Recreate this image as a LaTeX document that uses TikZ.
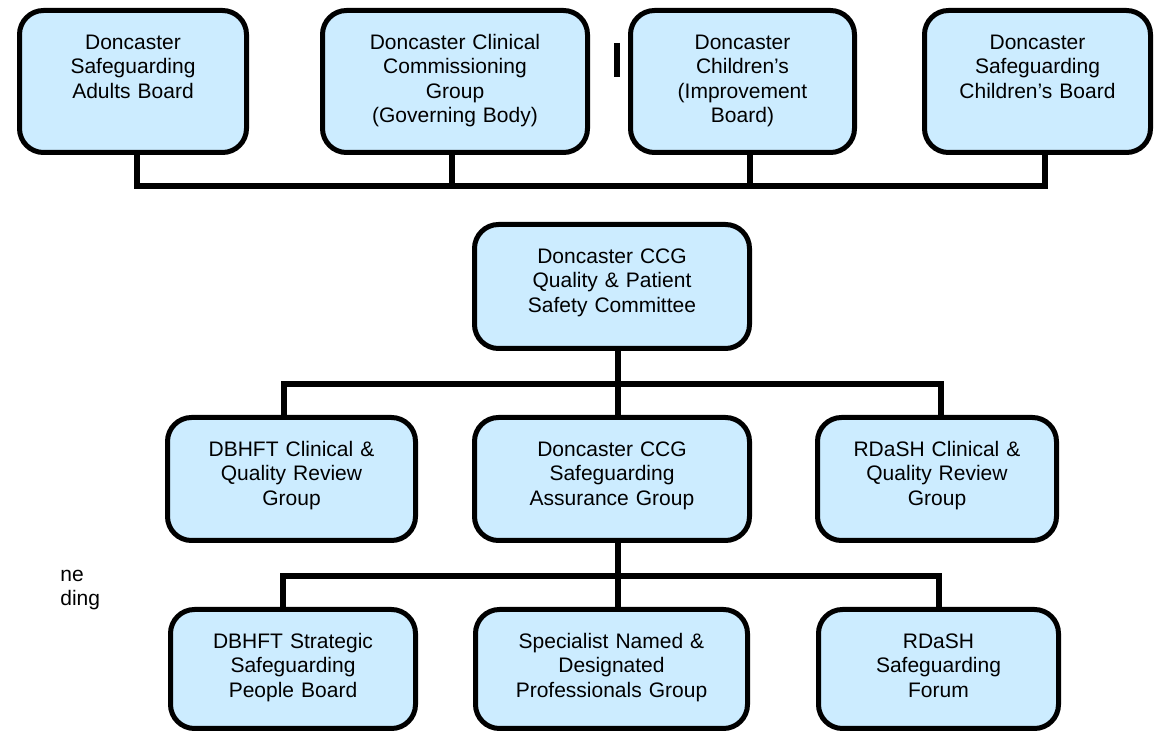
\documentclass[tikz,border=0pt]{standalone}
\usepackage{fontspec}
\setmainfont{Liberation Sans}
\definecolor{boxblue}{HTML}{CCECFF}
\tikzset{
  orgbox/.style = {draw = black, fill = boxblue, line width = 2.5pt, rounded corners = 12pt, inner sep = 0pt, align = center, font = \fontsize{10.5}{12.2}\selectfont, text height = 19.5pt},
  orglink/.style = {draw = black, line width = 3pt},
  stray/.style = {anchor = base west, inner sep = 0pt, font = \fontsize{10.5}{12.2}\selectfont}
}
\begin{document}
\begin{tikzpicture}[x = 0.5pt, y = -0.5pt]
\useasboundingbox (0,0) rectangle (1158,731);
\node[orgbox, text width = 113.5pt, text depth = 51.5pt] (sab) at (133,81.5) {Doncaster\\Safeguarding\\Adults Board};
\node[orgbox, text width = 132.5pt, text depth = 51.5pt] (ccggb) at (455,81.5) {Doncaster Clinical\\Commissioning\\Group\\(Governing Body)};
\node[orgbox, text width = 112pt, text depth = 51.5pt] (cib) at (742.5,81.5) {Doncaster\\Children’s\\(Improvement\\Board)};
\node[orgbox, text width = 113pt, text depth = 51.5pt] (scb) at (1037.5,81.5) {Doncaster\\Safeguarding\\Children’s Board};
\node[orgbox, text width = 137.5pt, text depth = 42.5pt] (qps) at (612,286.5) {Doncaster CCG\\Quality \& Patient\\Safety Committee};
\node[orgbox, text width = 124pt, text depth = 42pt] (dcq) at (291.5,479) {DBHFT Clinical \&\\Quality Review\\Group};
\node[orgbox, text width = 137.5pt, text depth = 42pt] (sag) at (612,479) {Doncaster CCG\\Safeguarding\\Assurance Group};
\node[orgbox, text width = 119.5pt, text depth = 42pt] (rcq) at (937,479) {RDaSH Clinical \&\\Quality Review\\Group};
\node[orgbox, text width = 122.5pt, text depth = 40pt] (dsp) at (293,669) {DBHFT Strategic\\Safeguarding\\People Board};
\node[orgbox, text width = 136pt, text depth = 40pt] (snd) at (611.5,669) {Specialist Named \&\\Designated\\Professionals Group};
\node[orgbox, text width = 120pt, text depth = 40pt] (rsf) at (938.5,669) {RDaSH\\Safeguarding\\Forum};
\node[stray] (fragne) at (60,582) {ne};
\node[stray] (fragding) at (60,606) {ding};
\coordinate (topbus) at (0,186);
\coordinate (midbus) at (0,384);
\coordinate (lowbus) at (0,576);
\draw[orglink] ([xshift = 2pt]sab.south) |- ([xshift = 3.75pt]scb.south |- topbus) -- ([xshift = 3.75pt]scb.south);
\draw[orglink] ([xshift = -1.5pt]ccggb.south) -- ([xshift = -1.5pt]ccggb.south |- topbus);
\draw[orglink] ([xshift = 3.75pt]cib.south) -- ([xshift = 3.75pt]cib.south |- topbus);
\draw[orglink] ([xshift = 3pt]qps.south) -- ([xshift = 3pt]sag.north);
\draw[orglink] ([xshift = -3.75pt]dcq.north) |- ([xshift = 2pt]rcq.north |- midbus) -- ([xshift = 2pt]rcq.north);
\draw[orglink] ([xshift = 3pt]sag.south) -- ([xshift = 3.25pt]snd.north);
\draw[orglink] ([xshift = -5pt]dsp.north) |- (rsf.north |- lowbus) -- (rsf.north);
\draw [line width = 3pt] (617,43) -- (617,77);
\end{tikzpicture}
\end{document}
